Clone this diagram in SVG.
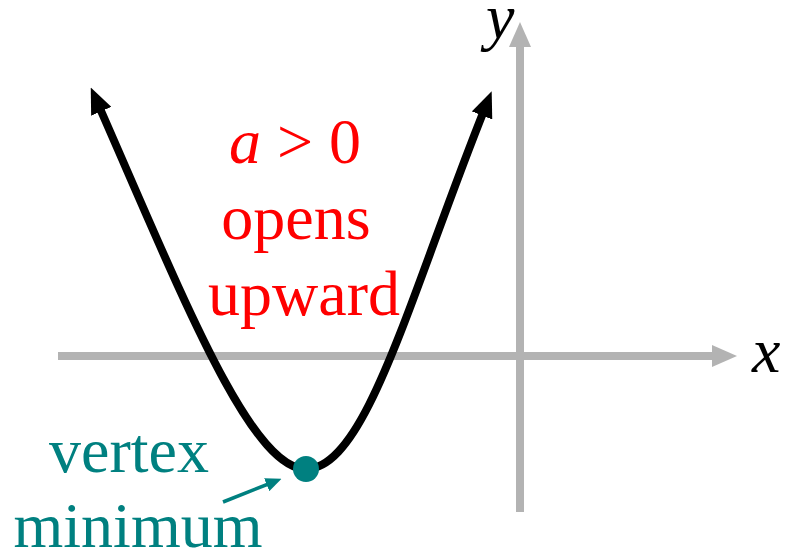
<svg xmlns="http://www.w3.org/2000/svg" width="790" height="555" viewBox="0 0 790 555">
<style>
.axis{stroke:#b3b3b3;stroke-width:8;fill:none}
.curve{stroke:#000;stroke-width:8;fill:none}
.t{font-family:"Liberation Serif","Times New Roman",serif;font-size:64px}
.red{fill:#ff0000}
.teal{fill:#008080}
.it{font-style:italic}
</style>
<defs>
<marker id="ah" markerUnits="userSpaceOnUse" markerWidth="26" markerHeight="22" viewBox="0 0 26 22" refX="8" refY="11" orient="auto-start-reverse">
<path d="M0,0 L26,11 L0,22 z" fill="#000"/>
</marker>
<marker id="gh" markerUnits="userSpaceOnUse" markerWidth="25" markerHeight="22" viewBox="0 0 25 22" refX="1" refY="11" orient="auto">
<path d="M0,0 L25,11 L0,22 z" fill="#b3b3b3"/>
</marker>
<marker id="th" markerUnits="userSpaceOnUse" markerWidth="16" markerHeight="14" viewBox="0 0 16 14" refX="10" refY="7" orient="auto">
<path d="M0,0 L16,7 L0,14 z" fill="#008080"/>
</marker>
</defs>
<g id="connectors">
<path id="x-axis" class="axis" d="M58,356 L713,356" marker-end="url(#gh)"/>
<path id="y-axis" class="axis" d="M520,512 L520,46" marker-end="url(#gh)"/>
<path id="parabola" class="curve" d="M98,104 C181.6,294 250,469 306,469 C366,469 409,298 485,108" marker-start="url(#ah)" marker-end="url(#ah)"/>
<path id="vertex-pointer" d="M223,502 L276,481" stroke="#008080" stroke-width="3.5" fill="none" marker-end="url(#th)"/>
</g>
<g id="vertex-node">
<circle cx="306" cy="469" r="13" fill="#008080"/>
</g>
<g id="x-label"><text class="t it" x="752" y="372">x</text></g>
<g id="y-label"><text class="t it" x="486" y="38">y</text></g>
<g id="condition-label">
<text class="t red" x="295" y="163" text-anchor="middle"><tspan class="it">a</tspan> &gt; 0</text>
<text class="t red" x="296" y="239" text-anchor="middle">opens</text>
<text class="t red" x="304" y="315" text-anchor="middle">upward</text>
</g>
<g id="vertex-label">
<text class="t teal" x="129" y="472" text-anchor="middle">vertex</text>
<text class="t teal" x="138" y="547" text-anchor="middle">minimum</text>
</g>
</svg>
